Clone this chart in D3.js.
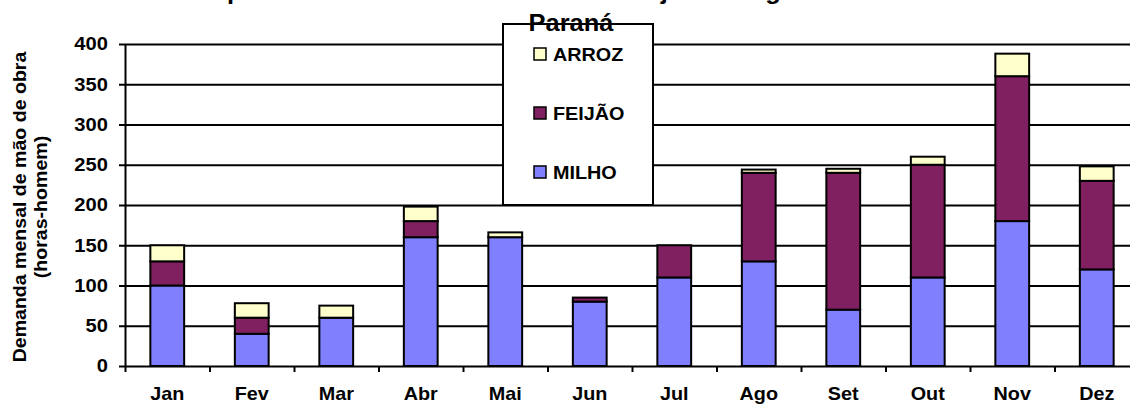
<!DOCTYPE html>
<html>
<head>
<meta charset="utf-8" />
<script src="https://d3js.org/d3.v7.min.js"></script>
<style>
  body { margin: 0; background: #fff; }
  svg text { font-family: "Liberation Sans", Arial, sans-serif; font-weight: bold; fill: #000; }
  .axis path, .axis line { stroke: #000; stroke-width: 2px; }
  .grid line { stroke: #000; stroke-width: 2px; }
  .grid path { display: none; }
</style>
</head>
<body>
<script>
// - - - - - DATA - - - - - //
var months = ["Jan", "Fev", "Mar", "Abr", "Mai", "Jun", "Jul", "Ago", "Set", "Out", "Nov", "Dez"];
var milho  = [100, 40, 60, 160, 160, 80, 110, 130, 70, 110, 180, 120];
var feijao = [30, 20, 0, 20, 0, 5, 40, 110, 170, 140, 180, 110];
var arroz  = [20, 18, 15, 18, 6, 0, 0, 4, 5, 10, 28, 18];
var seriesNames = ["MILHO", "FEIJÃO", "ARROZ"];
var yTicks = [0, 50, 100, 150, 200, 250, 300, 350, 400];
var titleLines = ["Demanda mensal de mão de", "obra para as culturas de milho arroz e feijão na região Sudoeste do", "Paraná"];
var yTitle = ["Demanda mensal de mão de obra", "(horas-homem)"];

var colors = {"MILHO": "#8080ff", "FEIJÃO": "#802060", "ARROZ": "#ffffcc"};

// - - - - - LAYOUT - - - - - //
var width = 1130, height = 405;
var plot = {left: 125, right: 1139, top: 44, bottom: 366};

var svg = d3.select("body").append("svg")
    .attr("width", width)
    .attr("height", height);

// text in the reference is drawn wider than Arial
function widen(sel, k) {
  sel.attr("transform", function() {
    var t = d3.select(this).attr("transform") || "";
    return t + " scale(" + k + ",1)";
  });
}

var x = d3.scaleBand()
    .domain(months)
    .range([plot.left, plot.right])
    .paddingInner(0.6)
    .paddingOuter(0.3);

var xEdge = d3.scaleLinear()
    .domain([0, months.length])
    .range([plot.left, plot.right]);

var y = d3.scaleLinear()
    .domain([0, 400])
    .range([plot.bottom, plot.top]);

// gridlines
svg.append("g")
    .attr("class", "grid")
    .attr("transform", "translate(" + plot.left + ",0)")
    .call(d3.axisLeft(y).tickValues(yTicks.slice(1)).tickSize(-(plot.right - plot.left)).tickFormat(""));

// stacked bars
var table = months.map(function(m, i) {
  return {month: m, "MILHO": milho[i], "FEIJÃO": feijao[i], "ARROZ": arroz[i]};
});
var stack = d3.stack().keys(seriesNames)(table);

svg.append("g").selectAll("g")
    .data(stack)
  .enter().append("g")
    .attr("fill", function(d) { return colors[d.key]; })
  .selectAll("rect")
    .data(function(d) { return d.filter(function(p) { return p[1] > p[0]; }); })
  .enter().append("rect")
    .attr("x", function(d) { return x(d.data.month); })
    .attr("width", x.bandwidth())
    .attr("y", function(d) { return y(d[1]); })
    .attr("height", function(d) { return y(d[0]) - y(d[1]); })
    .attr("stroke", "#000")
    .attr("stroke-width", 2);

// y axis
var yAxis = svg.append("g")
    .attr("class", "axis")
    .attr("transform", "translate(" + plot.left + ",0)")
    .call(d3.axisLeft(y).tickValues(yTicks).tickSize(6).tickSizeOuter(0));
yAxis.selectAll("text")
    .attr("x", -17 / 1.12)
    .style("font-size", "18px")
    .call(widen, 1.12);

// x axis: boundary ticks, then labels
svg.append("g")
    .attr("class", "axis")
    .attr("transform", "translate(0," + plot.bottom + ")")
    .call(d3.axisBottom(xEdge).tickValues(d3.range(0, months.length + 1)).tickSize(6).tickSizeOuter(0).tickFormat(""));

var xAxis = svg.append("g")
    .attr("transform", "translate(0," + plot.bottom + ")")
    .call(d3.axisBottom(x).tickSize(0).tickPadding(21));
xAxis.select(".domain").remove();
xAxis.selectAll("text")
    .style("font-size", "18px")
    .call(widen, 1.1);

// y axis title
var yt = svg.append("g")
    .attr("transform", "translate(0,207) rotate(-90)");
yt.selectAll("text")
    .data(yTitle)
  .enter().append("text")
    .attr("text-anchor", "middle")
    .attr("y", function(d, i) { return i === 0 ? 26 : 47; })
    .style("font-size", "19px")
    .text(function(d) { return d; })
    .call(widen, 1.03);

// legend
var legend = svg.append("g").attr("transform", "translate(503,24)");
legend.append("rect")
    .attr("width", 150)
    .attr("height", 181)
    .attr("fill", "#fff")
    .attr("stroke", "#000")
    .attr("stroke-width", 2);

var legendItems = seriesNames.slice().reverse();
var item = legend.selectAll(".item")
    .data(legendItems)
  .enter().append("g")
    .attr("class", "item")
    .attr("transform", function(d, i) { return "translate(0," + (30 + i * 59) + ")"; });
item.append("rect")
    .attr("x", 31)
    .attr("y", -6)
    .attr("width", 12)
    .attr("height", 12)
    .attr("fill", function(d) { return colors[d]; })
    .attr("stroke", "#000")
    .attr("stroke-width", 1.5);
item.append("text")
    .attr("x", 50 / 1.1)
    .attr("y", 7)
    .style("font-size", "18px")
    .text(function(d) { return d; })
    .call(widen, 1.1);

// title (top lines fall outside the picture, as in the reference)
svg.append("g").selectAll("text")
    .data(titleLines)
  .enter().append("text")
    .attr("transform", function(d, i) { return "translate(571," + (-33 + i * 32) + ")"; })
    .attr("text-anchor", "middle")
    .style("font-size", "24px")
    .text(function(d) { return d; })
    .call(widen, 1.06);
</script>
</body>
</html>
